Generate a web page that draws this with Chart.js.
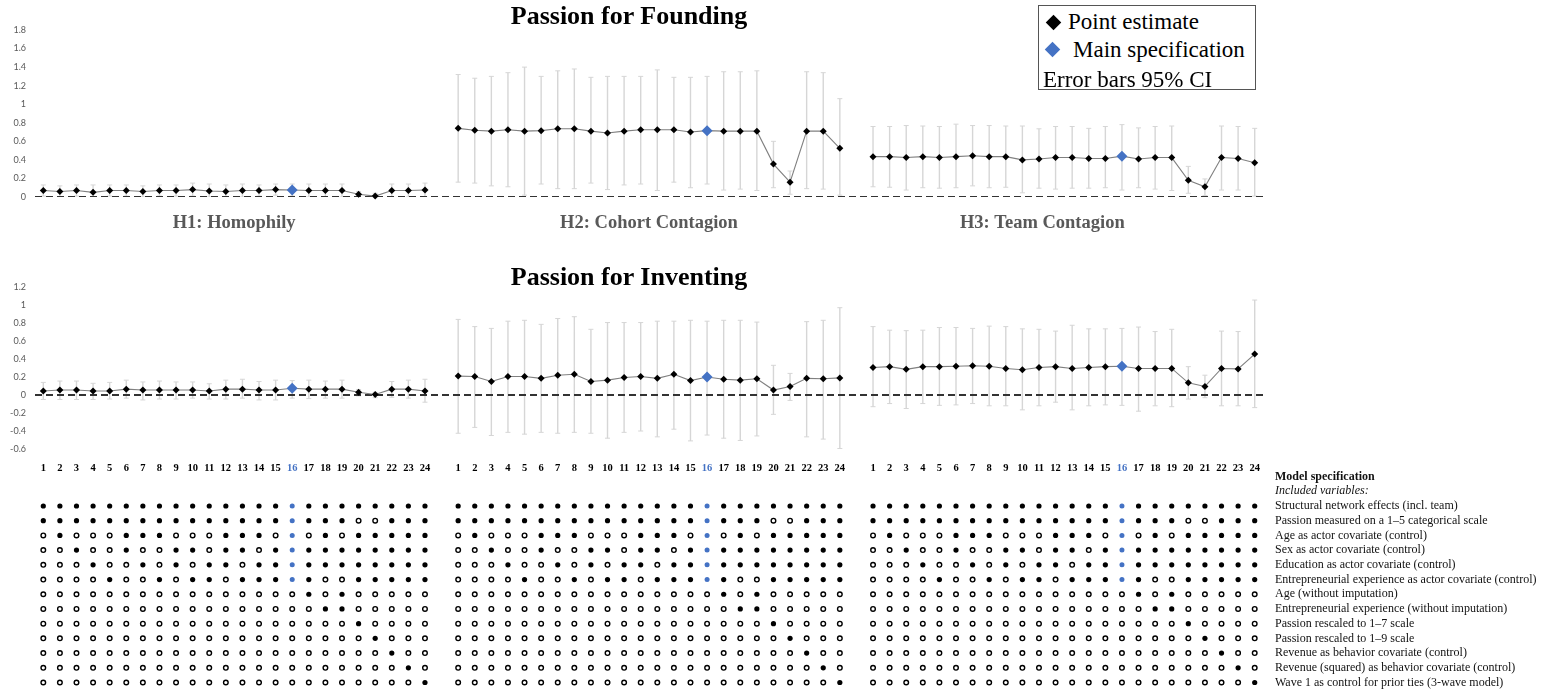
<!DOCTYPE html>
<html>
<head>
<meta charset="utf-8">
<title>Passion contagion: specification curve</title>
<script src="https://cdn.jsdelivr.net/npm/chart.js@4.4.1/dist/chart.umd.min.js"></script>
<style>
  html, body { margin: 0; padding: 0; background: #fff; overflow: hidden; }
  #page { position: relative; width: 1546px; height: 692px; overflow: hidden; }
  #page canvas { position: absolute; left: 0; }
  .panel-title {
    position: absolute; left: 629px; transform: translate(-50%, -50%);
    font: bold 26px "Liberation Serif", serif; line-height: 30px; white-space: nowrap; color: #000;
  }
  #legend {
    position: absolute; left: 1038px; top: 5px; width: 218px; height: 85px;
    box-sizing: border-box; border: 1px solid #555; background: #fff;
    font: 23px "Liberation Serif", serif; color: #000;
  }
  #legend div { position: absolute; white-space: nowrap; line-height: 28px; }
  #legend .diamond { width: 11px; height: 11px; transform: rotate(45deg); }
</style>
</head>
<body>
<div id="page">
  <canvas id="founding" width="1546" height="240" style="top:0"></canvas>
  <canvas id="inventing" width="1546" height="240" style="top:240px"></canvas>
  <canvas id="spec" width="1546" height="260" style="top:450px"></canvas>
  <div class="panel-title" style="top:16px">Passion for Founding</div>
  <div class="panel-title" style="top:277px">Passion for Inventing</div>
  <div id="legend">
    <div class="diamond" style="left:9px;top:11px;background:#000"></div>
    <div style="left:29px;top:2px">Point estimate</div>
    <div class="diamond" style="left:8px;top:38px;background:#4472C4"></div>
    <div style="left:34px;top:30px">Main specification</div>
    <div style="left:4px;top:60px">Error bars 95% CI</div>
  </div>
</div>
<script>
const BLUE = "#4472C4";
const CI_GREY = "#d6d6d6";

const specs = [1, 2, 3, 4, 5, 6, 7, 8, 9, 10, 11, 12, 13, 14, 15, 16, 17, 18, 19, 20, 21, 22, 23, 24];
const MAIN_SPEC = 16;
const groupLabels = ["H1: Homophily", "H2: Cohort Contagion", "H3: Team Contagion"];
const groupLabelAt = [12.5, 37.5, 61.2];

const foundingTicks = [0, 0.2, 0.4, 0.6, 0.8, 1, 1.2, 1.4, 1.6, 1.8];
const inventingTicks = [-0.6, -0.4, -0.2, 0, 0.2, 0.4, 0.6, 0.8, 1, 1.2];

// Passion for Founding: estimates and 95% CI per hypothesis
const foundH1 = [0.07, 0.06, 0.07, 0.05, 0.07, 0.07, 0.06, 0.07, 0.07, 0.08, 0.065, 0.06, 0.07, 0.07, 0.08, 0.075, 0.07, 0.07, 0.07, 0.03, 0.01, 0.07, 0.07, 0.075];
const foundH1Lo = [0.01, 0.0, 0.01, 0.0, 0.01, 0.01, 0.0, 0.01, 0.01, 0.01, 0.0, 0.0, 0.0, 0.01, 0.02, 0.01, 0.0, 0.0, 0.0, 0.0, 0.0, 0.0, 0.0, 0.0];
const foundH1Hi = [0.13, 0.12, 0.13, 0.13, 0.13, 0.13, 0.12, 0.13, 0.13, 0.15, 0.14, 0.13, 0.14, 0.13, 0.14, 0.14, 0.14, 0.14, 0.14, 0.06, 0.04, 0.14, 0.14, 0.15];

const foundH2 = [0.74, 0.72, 0.71, 0.725, 0.71, 0.715, 0.735, 0.735, 0.71, 0.69, 0.71, 0.725, 0.725, 0.725, 0.70, 0.715, 0.71, 0.71, 0.71, 0.355, 0.16, 0.71, 0.71, 0.525];
const foundH2Lo = [0.16, 0.15, 0.12, 0.11, 0.02, 0.14, 0.09, 0.09, 0.15, 0.08, 0.13, 0.14, 0.07, 0.16, 0.10, 0.14, 0.075, 0.085, 0.07, 0.10, 0.03, 0.09, 0.085, 0.02];
const foundH2Hi = [1.32, 1.28, 1.30, 1.34, 1.40, 1.30, 1.36, 1.38, 1.29, 1.30, 1.30, 1.30, 1.37, 1.29, 1.29, 1.30, 1.35, 1.35, 1.36, 0.60, 0.28, 1.35, 1.34, 1.06];

const foundH3 = [0.435, 0.435, 0.425, 0.435, 0.425, 0.435, 0.445, 0.435, 0.435, 0.40, 0.41, 0.425, 0.425, 0.415, 0.415, 0.44, 0.41, 0.425, 0.425, 0.18, 0.11, 0.425, 0.415, 0.37];
const foundH3Lo = [0.11, 0.105, 0.075, 0.10, 0.095, 0.10, 0.12, 0.10, 0.105, 0.045, 0.095, 0.085, 0.095, 0.095, 0.10, 0.075, 0.10, 0.085, 0.07, 0.04, 0.015, 0.075, 0.075, 0.01];
const foundH3Hi = [0.76, 0.76, 0.77, 0.765, 0.76, 0.785, 0.77, 0.77, 0.765, 0.765, 0.735, 0.76, 0.76, 0.74, 0.76, 0.78, 0.745, 0.76, 0.765, 0.33, 0.195, 0.765, 0.76, 0.74];

// Passion for Inventing
const invH1 = [0.045, 0.055, 0.055, 0.045, 0.045, 0.065, 0.055, 0.055, 0.055, 0.055, 0.045, 0.065, 0.065, 0.055, 0.055, 0.075, 0.065, 0.065, 0.065, 0.03, 0.005, 0.065, 0.065, 0.045];
const invH1Lo = [-0.05, -0.05, -0.05, -0.05, -0.045, -0.035, -0.055, -0.045, -0.045, -0.035, -0.045, -0.045, -0.035, -0.055, -0.055, -0.035, -0.04, -0.035, -0.035, -0.01, -0.03, -0.025, -0.035, -0.08];
const invH1Hi = [0.14, 0.155, 0.155, 0.13, 0.14, 0.165, 0.145, 0.155, 0.145, 0.145, 0.125, 0.165, 0.175, 0.15, 0.165, 0.16, 0.165, 0.155, 0.165, 0.06, 0.03, 0.15, 0.165, 0.175];

const invH2 = [0.21, 0.205, 0.15, 0.205, 0.205, 0.185, 0.22, 0.23, 0.15, 0.165, 0.195, 0.205, 0.185, 0.23, 0.16, 0.20, 0.175, 0.165, 0.18, 0.055, 0.095, 0.185, 0.18, 0.19];
const invH2Lo = [-0.425, -0.36, -0.45, -0.415, -0.435, -0.415, -0.425, -0.415, -0.425, -0.48, -0.415, -0.40, -0.465, -0.38, -0.51, -0.445, -0.48, -0.505, -0.455, -0.215, -0.06, -0.465, -0.49, -0.595];
const invH2Hi = [0.84, 0.76, 0.74, 0.82, 0.83, 0.785, 0.85, 0.87, 0.73, 0.805, 0.805, 0.805, 0.82, 0.82, 0.83, 0.82, 0.83, 0.83, 0.81, 0.33, 0.24, 0.815, 0.83, 0.97];

const invH3 = [0.305, 0.315, 0.285, 0.315, 0.315, 0.32, 0.325, 0.32, 0.295, 0.28, 0.305, 0.315, 0.295, 0.305, 0.315, 0.32, 0.295, 0.295, 0.295, 0.135, 0.095, 0.295, 0.29, 0.455];
const invH3Lo = [-0.13, -0.095, -0.15, -0.095, -0.115, -0.11, -0.095, -0.12, -0.12, -0.165, -0.12, -0.08, -0.165, -0.12, -0.11, -0.115, -0.18, -0.12, -0.13, -0.045, -0.03, -0.12, -0.12, -0.14];
const invH3Hi = [0.76, 0.72, 0.715, 0.72, 0.75, 0.75, 0.74, 0.765, 0.76, 0.735, 0.73, 0.71, 0.775, 0.735, 0.735, 0.74, 0.755, 0.705, 0.73, 0.315, 0.22, 0.71, 0.705, 1.055];

// Model specification matrix (1 = variable included), same for every hypothesis
const rowLabels = [
  "Model specification",
  "Included variables:",
  "Structural network effects (incl. team)",
  "Passion measured on a 1\u20135 categorical scale",
  "Age as actor covariate (control)",
  "Sex as actor covariate (control)",
  "Education as actor covariate (control)",
  "Entrepreneurial experience as actor covariate (control)",
  "Age (without imputation)",
  "Entrepreneurial experience (without imputation)",
  "Passion rescaled to 1\u20137 scale",
  "Passion rescaled to 1\u20139 scale",
  "Revenue as behavior covariate (control)",
  "Revenue (squared) as behavior covariate (control)",
  "Wave 1 as control for prior ties (3-wave model)",
];
const included = [
  "111111111111111111111111",
  "111111111111111111100111",
  "010001110001110101011111",
  "001001001101101111111111",
  "000100101011011111111111",
  "000010010110111110011111",
  "000000000000000010100000",
  "000000000000000001100000",
  "000000000000000000010000",
  "000000000000000000001000",
  "000000000000000000000100",
  "000000000000000000000010",
  "000000000000000000000001",
];

// each hypothesis takes 24 slots, with one empty slot after it
const slot = (g, s) => g * 25 + s;
const specOf = (x) => ((x - 1) % 25) + 1;
const isMain = (ctx) => ctx.raw && ctx.raw.y !== null && specOf(ctx.raw.x) === MAIN_SPEC;
const fmt = (v) => String(+v.toFixed(1));

const xTicks = [];
const xTickSpecs = [];
for (let g = 0; g < 3; g++) {
  specs.forEach((s) => {
    xTicks.push(slot(g, s));
    xTickSpecs.push(s);
  });
}

const noGrid = { display: false, drawTicks: false };

function panelDatasets(est, lo, hi) {
  const points = [];
  const bars = [];
  const caps = [];
  est.forEach((vals, g) => {
    vals.forEach((v, i) => {
      const x = slot(g, specs[i]);
      points.push({ x, y: v });
      bars.push({ x, y: lo[g][i] }, { x, y: hi[g][i] }, { x, y: null });
      caps.push({ x, y: lo[g][i] }, { x, y: hi[g][i] });
    });
    points.push({ x: slot(g, 25), y: null });
  });
  return [
    {
      data: points,
      borderColor: "#808080",
      borderWidth: 1.1,
      pointStyle: "rectRot",
      pointRadius: (ctx) => (isMain(ctx) ? 5.5 : 3.5),
      pointBackgroundColor: (ctx) => (isMain(ctx) ? BLUE : "#000"),
      pointBorderWidth: 0,
      clip: false,
      order: 0,
    },
    {
      data: [{ x: 0.5, y: 0 }, { x: 74.5, y: 0 }],
      borderColor: "#333",
      borderWidth: 1.8,
      borderDash: [7, 4],
      pointRadius: 0,
      order: 1,
    },
    {
      data: caps,
      showLine: false,
      pointStyle: "line",
      pointRadius: 2.5,
      pointBorderColor: CI_GREY,
      pointBorderWidth: 1,
      order: 2,
    },
    {
      data: bars,
      borderColor: CI_GREY,
      borderWidth: 1.4,
      pointRadius: 0,
      spanGaps: false,
      order: 3,
    },
  ];
}

function yAxis(min, max, ticks) {
  return {
    min,
    max,
    grid: noGrid,
    border: { display: false },
    afterFit: (axis) => { axis.width = 35; },
    afterBuildTicks: (axis) => { axis.ticks = ticks.map((value) => ({ value })); },
    ticks: {
      autoSkip: false,
      padding: 9,
      color: "#595959",
      font: { family: "Lato", size: 9 },
      callback: (v) => fmt(v),
    },
  };
}

const baseOptions = {
  responsive: false,
  animation: false,
  events: [],
  plugins: { legend: { display: false }, tooltip: { enabled: false } },
};

new Chart(document.getElementById("founding"), {
  type: "line",
  data: { datasets: panelDatasets([foundH1, foundH2, foundH3], [foundH1Lo, foundH2Lo, foundH3Lo], [foundH1Hi, foundH2Hi, foundH3Hi]) },
  options: {
    ...baseOptions,
    layout: { padding: { top: 30, right: 283, left: 0, bottom: 0 } },
    scales: {
      x: {
        type: "linear",
        min: 0.5,
        max: 74.5,
        grid: noGrid,
        border: { display: false },
        afterFit: (axis) => { axis.height = 43; },
        afterBuildTicks: (axis) => { axis.ticks = groupLabelAt.map((value) => ({ value })); },
        ticks: {
          autoSkip: false,
          maxRotation: 0,
          padding: 15,
          color: "#595959",
          font: { family: "Liberation Serif", size: 18.5, weight: "bold" },
          callback: (v, i) => groupLabels[i],
        },
      },
      y: yAxis(0, 1.8, foundingTicks),
    },
  },
});

new Chart(document.getElementById("inventing"), {
  type: "line",
  data: { datasets: panelDatasets([invH1, invH2, invH3], [invH1Lo, invH2Lo, invH3Lo], [invH1Hi, invH2Hi, invH3Hi]) },
  options: {
    ...baseOptions,
    layout: { padding: { top: 47, right: 283, left: 0, bottom: 0 } },
    scales: {
      x: {
        type: "linear",
        min: 0.5,
        max: 74.5,
        grid: noGrid,
        border: { display: false },
        afterFit: (axis) => { axis.height = 31; },
        afterBuildTicks: (axis) => { axis.ticks = xTicks.map((value) => ({ value })); },
        ticks: {
          autoSkip: false,
          maxRotation: 0,
          padding: 12.7,
          color: (ctx) => (xTickSpecs[ctx.index] === MAIN_SPEC ? BLUE : "#000"),
          font: { family: "Liberation Serif", size: 10.5, weight: "bold" },
          callback: (v, i) => String(xTickSpecs[i]),
        },
      },
      y: yAxis(-0.6, 1.2, inventingTicks),
    },
  },
});

// specification matrix: filled, open and main-spec dots
const filled = [];
const open = [];
const main = [];
for (let g = 0; g < 3; g++) {
  included.forEach((row, r) => {
    specs.forEach((s, i) => {
      const pt = { x: slot(g, s), y: r + 2 };
      if (row[i] === "1") (s === MAIN_SPEC ? main : filled).push(pt);
      else open.push(pt);
    });
  });
}

new Chart(document.getElementById("spec"), {
  type: "scatter",
  data: {
    datasets: [
      { data: main, pointRadius: 2.5, pointBackgroundColor: BLUE, pointBorderWidth: 0 },
      { data: filled, pointRadius: 2.6, pointBackgroundColor: "#000", pointBorderWidth: 0 },
      { data: open, pointRadius: 2.3, pointBackgroundColor: "#fff", pointBorderColor: "#000", pointBorderWidth: 1.4 },
    ],
  },
  options: {
    ...baseOptions,
    layout: { padding: { top: 10.35, right: 0, left: 35, bottom: 20.15 } },
    scales: {
      x: { type: "linear", min: 0.5, max: 74.5, display: false },
      y: {
        type: "linear",
        position: "right",
        reverse: true,
        min: -0.5,
        max: 14.5,
        grid: noGrid,
        border: { display: false },
        afterFit: (axis) => { axis.width = 283; },
        afterBuildTicks: (axis) => { axis.ticks = rowLabels.map((_, i) => ({ value: i })); },
        ticks: {
          autoSkip: false,
          padding: 12,
          color: "#111",
          font: (ctx) => {
            if (ctx.index === 0) return { family: "Liberation Serif", size: 12, weight: "bold" };
            if (ctx.index === 1) return { family: "Liberation Serif", size: 12, style: "italic" };
            return { family: "Liberation Serif", size: 12 };
          },
          callback: (v) => rowLabels[v],
        },
      },
    },
  },
});
</script>
</body>
</html>
